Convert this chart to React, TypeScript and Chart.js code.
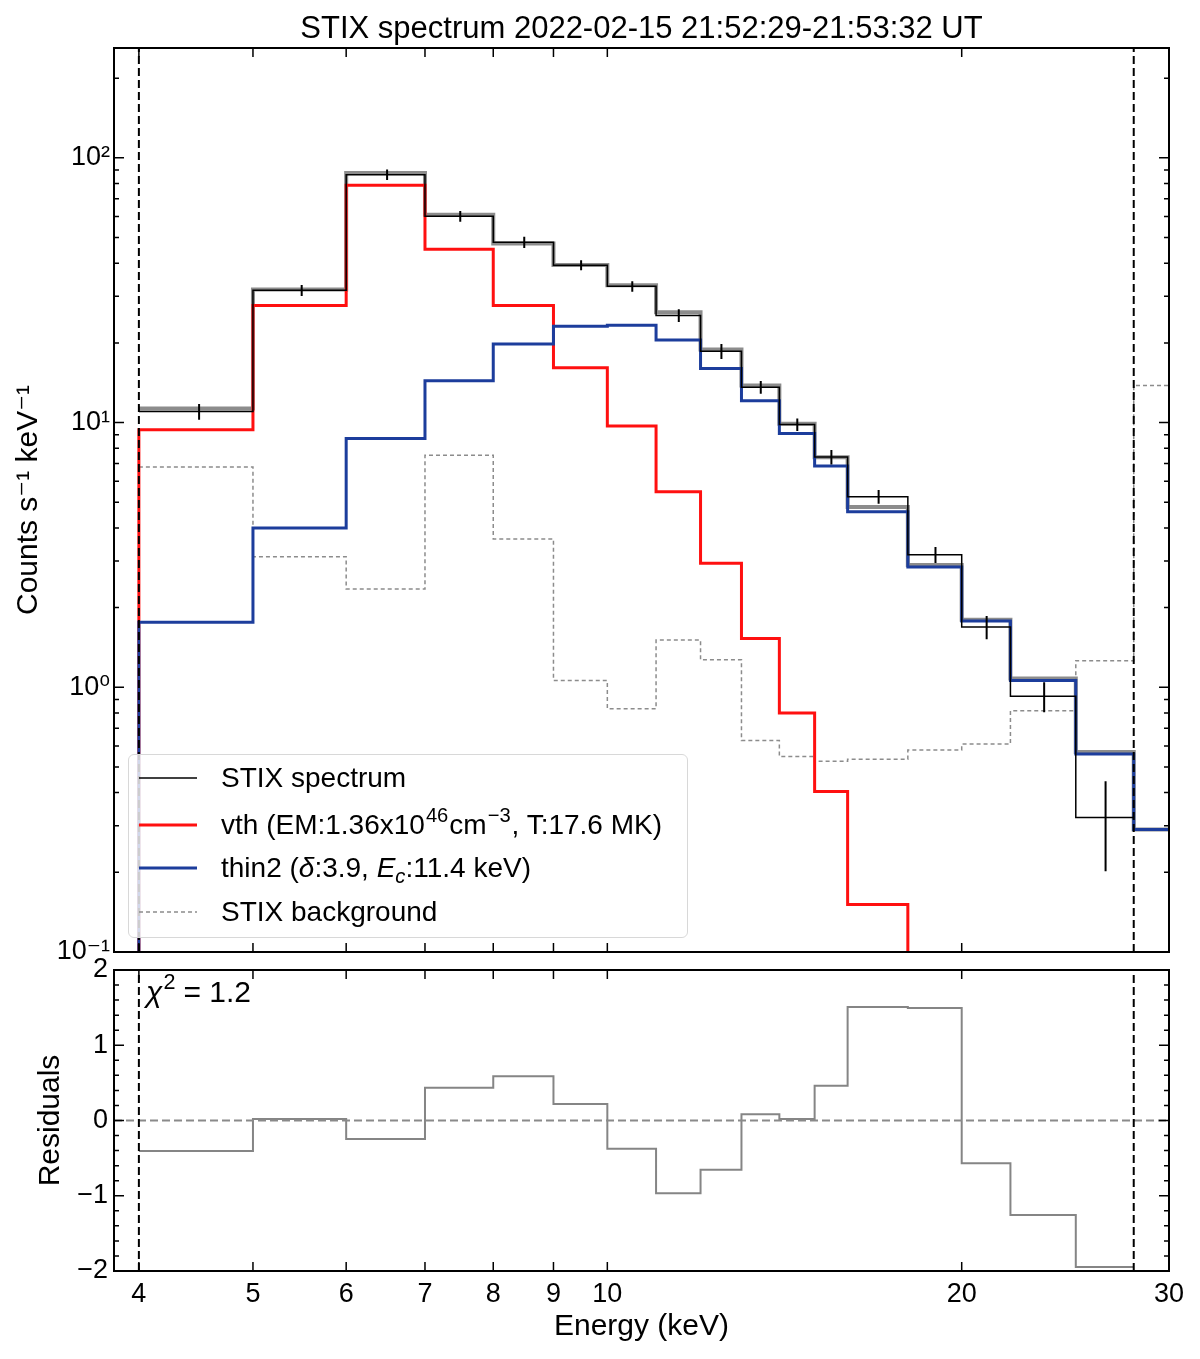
import { useEffect, useRef } from 'react';
import { Chart, registerables } from 'chart.js';

Chart.register(...registerables);

const FONT = "'Liberation Sans', Arial, Helvetica, 'DejaVu Sans', sans-serif";

// STIX energy bin edges (keV)
const EDGES = [4, 5, 6, 7, 8, 9, 10, 11, 12, 13, 14, 15, 16, 18, 20, 22, 25, 28, 32];

// counts s^-1 keV^-1 per bin
const SPECTRUM = [11.0, 31.6, 86.4, 60.2, 48.0, 39.3, 32.7, 25.4, 18.6, 13.6, 9.83, 7.41, 5.25, 3.17, 1.69, 0.925, 0.322, null];
const SPECTRUM_ERR = [0.75, 1.5, 3.9, 2.8, 2.3, 1.7, 1.5, 1.4, 1.2, 0.75, 0.54, 0.46, 0.31, 0.22, 0.17, 0.12, 0.12, null];
const TOTAL = [11.3, 31.8, 87.7, 61.0, 47.5, 39.4, 33.0, 26.1, 18.9, 13.8, 9.9, 7.4, 4.8, 2.9, 1.8, 1.08, 0.57, 0.29];
const VTH = [9.4, 27.7, 78.8, 45.2, 27.7, 16.1, 9.7, 5.48, 2.94, 1.53, 0.8, 0.404, 0.151, 0.06, 0.02, 0.006, 0.002, 0.0005];
const THIN2 = [1.76, 4.0, 8.7, 14.4, 19.8, 23.1, 23.3, 20.5, 16.0, 12.1, 9.1, 6.86, 4.6, 2.85, 1.78, 1.06, 0.56, 0.29];
const BACKGROUND = [6.8, 3.11, 2.35, 7.52, 3.63, 1.06, 0.83, 1.51, 1.27, 0.63, 0.548, 0.526, 0.535, 0.58, 0.61, 0.815, 1.26, 13.8];
const RESIDUALS = [-0.405, 0.02, -0.246, 0.436, 0.587, 0.219, -0.374, -0.968, -0.653, 0.082, 0.02, 0.463, 1.508, 1.495, -0.569, -1.255, -1.947];

const FIT_RANGE = [4, 28];
const X_MIN = 3.81, X_MAX = 30;
const Y_MIN = 0.1, Y_MAX = 260;
const RES_MIN = -2, RES_MAX = 2;
const X_TICKS = [4, 5, 6, 7, 8, 9, 10, 20, 30];
const Y_TICKS = [0.1, 1, 10, 100];
const Y_TICK_LABELS = ['10⁻¹', '10⁰', '10¹', '10²'];
const RES_TICKS = [-2, -1, 0, 1, 2];

const Y_MINOR: number[] = [];
for (const p of [0.1, 1, 10, 100]) for (let m = 2; m <= 9; m++) if (m * p <= Y_MAX) Y_MINOR.push(m * p);
const RES_MINOR: number[] = [];
for (let i = -10; i <= 10; i++) if (i % 5 !== 0) RES_MINOR.push(i / 5);

type Pt = { x: number; y: number | null };

function steps(vals: (number | null)[], drop?: number): Pt[] {
  const pts: Pt[] = [];
  if (drop != null) pts.push({ x: EDGES[0], y: drop });
  vals.forEach((v, i) => {
    if (v == null) return;
    pts.push({ x: EDGES[i], y: v }, { x: EDGES[i + 1], y: v });
  });
  return pts;
}

function errBars(): Pt[] {
  const pts: Pt[] = [];
  SPECTRUM.forEach((v, i) => {
    const e = SPECTRUM_ERR[i];
    if (v == null || e == null) return;
    const c = (EDGES[i] + EDGES[i + 1]) / 2;
    pts.push({ x: c, y: v - e }, { x: c, y: v + e }, { x: c, y: null });
  });
  return pts;
}

function vline(x: number, lo: number, hi: number): Pt[] { return [{ x, y: lo }, { x, y: hi }]; }

// inward ticks on all four sides + frame
const frameTicks = {
  id: 'frameTicks',
  afterDraw(chart: any, _a: any, o: any) {
    const { ctx, chartArea: a, scales } = chart;
    const xs = scales.x, ys = scales.y;
    ctx.save();
    ctx.strokeStyle = '#000';
    ctx.lineWidth = 1.5;
    ctx.beginPath();
    for (const v of o.xMajor) {
      const p = xs.getPixelForValue(v);
      ctx.moveTo(p, a.bottom); ctx.lineTo(p, a.bottom - 9);
      ctx.moveTo(p, a.top); ctx.lineTo(p, a.top + 9);
    }
    const yt = (list: number[], len: number) => {
      for (const v of list) {
        const p = ys.getPixelForValue(v);
        ctx.moveTo(a.left, p); ctx.lineTo(a.left + len, p);
        ctx.moveTo(a.right, p); ctx.lineTo(a.right - len, p);
      }
    };
    yt(o.yMajor, 10);
    yt(o.yMinor, 5);
    ctx.stroke();
    ctx.lineWidth = 2;
    ctx.strokeRect(a.left, a.top, a.right - a.left, a.bottom - a.top);
    ctx.restore();
  },
};

const line = (data: Pt[], color: string, width: number, order: number, dash: number[] = []) => ({
  data, borderColor: color, borderWidth: width, borderDash: dash, order,
  pointRadius: 0, pointHitRadius: 0, tension: 0, fill: false, borderJoinStyle: 'miter' as const,
});

const BASE = {
  responsive: true, maintainAspectRatio: false, animation: false as const, events: [] as any[],
  plugins: { legend: { display: false }, tooltip: { enabled: false } },
};

function SpectrumPanel() {
  const ref = useRef<HTMLCanvasElement>(null);
  useEffect(() => {
    if (!ref.current) return;
    const chart = new Chart(ref.current, {
      type: 'line',
      data: {
        datasets: [
          line(vline(FIT_RANGE[0], Y_MIN, Y_MAX), '#000', 2, 0, [8, 4]),
          line(vline(FIT_RANGE[1], Y_MIN, Y_MAX), '#000', 2, 0, [8, 4]),
          line(errBars(), '#000', 2, 1),
          line(steps(SPECTRUM), '#000', 1.5, 2),
          line(steps(THIN2, 0.001), '#1c3d9c', 3, 3),
          line(steps(VTH, 0.001), '#ff1010', 3, 4),
          line(steps(TOTAL), 'rgba(128,128,128,0.9)', 4, 5),
          line(steps(BACKGROUND), '#8c8c8c', 1.5, 6, [4, 3]),
        ],
      },
      options: {
        ...BASE,
        layout: { padding: { left: 0, right: 31, top: 48, bottom: 48 } },
        scales: {
          x: {
            type: 'logarithmic', min: X_MIN, max: X_MAX, bounds: 'data',
            ticks: { display: false }, grid: { display: false, drawTicks: false }, border: { display: false },
            afterFit: (s: any) => { s.height = 0; s.paddingLeft = 0; s.paddingRight = 0; },
          },
          y: {
            type: 'logarithmic', min: Y_MIN, max: Y_MAX, bounds: 'data',
            afterBuildTicks: (s: any) => { s.ticks = Y_TICKS.map(value => ({ value })); },
            ticks: {
              autoSkip: false, padding: 4, color: '#000', font: { family: FONT, size: 27 },
              callback: (v: any) => Y_TICK_LABELS[Y_TICKS.indexOf(Number(v))] ?? '',
            },
            grid: { display: false, drawTicks: false }, border: { display: false },
            title: { display: true, text: 'Counts s⁻¹ keV⁻¹', color: '#000', font: { family: FONT, size: 30 }, padding: { top: 11, bottom: 0 } },
            afterFit: (s: any) => { s.width = 114; s.paddingTop = 0; s.paddingBottom = 0; },
          },
        },
        plugins: { ...BASE.plugins, frameTicks: { xMajor: X_TICKS, yMajor: Y_TICKS, yMinor: Y_MINOR } } as any,
      },
      plugins: [frameTicks],
    });
    return () => chart.destroy();
  }, []);
  return <div style={{ position: 'absolute', left: 0, top: 0, width: 1200, height: 1000 }}><canvas ref={ref} /></div>;
}

function ResidualPanel() {
  const ref = useRef<HTMLCanvasElement>(null);
  useEffect(() => {
    if (!ref.current) return;
    const chart = new Chart(ref.current, {
      type: 'line',
      data: {
        datasets: [
          line(vline(FIT_RANGE[0], RES_MIN, RES_MAX), '#000', 2, 0, [8, 4]),
          line(vline(FIT_RANGE[1], RES_MIN, RES_MAX), '#000', 2, 0, [8, 4]),
          line([{ x: X_MIN, y: 0 }, { x: X_MAX, y: 0 }], '#8a8a8a', 2, 1, [8, 4]),
          line(steps(RESIDUALS), '#858585', 2, 2),
        ],
      },
      options: {
        ...BASE,
        layout: { padding: { left: 0, right: 31, top: 30, bottom: 0 } },
        scales: {
          x: {
            type: 'logarithmic', min: X_MIN, max: X_MAX, bounds: 'data',
            afterBuildTicks: (s: any) => { s.ticks = X_TICKS.map(value => ({ value })); },
            ticks: { autoSkip: false, maxRotation: 0, padding: 7, color: '#000', font: { family: FONT, size: 27 }, callback: (v: any) => String(v) },
            grid: { display: false, drawTicks: false }, border: { display: false },
            title: { display: true, text: 'Energy (keV)', color: '#000', font: { family: FONT, size: 30 }, padding: { top: 0, bottom: 14 } },
            afterFit: (s: any) => { s.height = 88; s.paddingLeft = 0; s.paddingRight = 0; },
          },
          y: {
            type: 'linear', min: RES_MIN, max: RES_MAX,
            afterBuildTicks: (s: any) => { s.ticks = RES_TICKS.map(value => ({ value })); },
            ticks: {
              autoSkip: false, padding: 6, color: '#000', font: { family: FONT, size: 27 },
              callback: (v: any) => (Number(v) < 0 ? '−' + Math.abs(Number(v)) : String(v)),
            },
            grid: { display: false, drawTicks: false }, border: { display: false },
            title: { display: true, text: 'Residuals', color: '#000', font: { family: FONT, size: 30 }, padding: { top: 33, bottom: 0 } },
            afterFit: (s: any) => { s.width = 114; s.paddingTop = 0; s.paddingBottom = 0; },
          },
        },
        plugins: { ...BASE.plugins, frameTicks: { xMajor: X_TICKS, yMajor: RES_TICKS, yMinor: RES_MINOR } } as any,
      },
      plugins: [frameTicks],
    });
    return () => chart.destroy();
  }, []);
  return <div style={{ position: 'absolute', left: 0, top: 940, width: 1200, height: 419 }}><canvas ref={ref} /></div>;
}

const sup = { fontSize: '0.72em', position: 'relative' as const, top: '-0.6em', lineHeight: 0, margin: '0 1px' };
const sub = { fontSize: '0.72em', position: 'relative' as const, top: '0.3em', lineHeight: 0 };

function Handle({ color, width, dash }: { color: string; width: number; dash?: string }) {
  return (
    <svg width={58} height={8} style={{ marginLeft: 10, flexShrink: 0 }}>
      <line x1={0} y1={4} x2={58} y2={4} stroke={color} strokeWidth={width} strokeDasharray={dash} />
    </svg>
  );
}

function Legend() {
  const rows = [
    { c: 23, h: <Handle color="#000" width={1.5} />, t: <>STIX spectrum</> },
    { c: 70, h: <Handle color="#ff1010" width={3} />, t: <>vth (EM:1.36x10<span style={sup}>46</span>cm<span style={sup}>−3</span>, T:17.6 MK)</> },
    { c: 113, h: <Handle color="#1c3d9c" width={3} />, t: <>thin2 (<i>δ</i>:3.9, <i>E</i><span style={{ ...sub, fontStyle: 'italic' }}>c</span>:11.4 keV)</> },
    { c: 157, h: <Handle color="#8c8c8c" width={1.5} dash="4 3" />, t: <>STIX background</> },
  ];
  return (
    <div style={{
      position: 'absolute', left: 128, top: 754, width: 560, height: 184, boxSizing: 'border-box',
      border: '1px solid #d8d8d8', borderRadius: 6, background: 'rgba(255,255,255,0.8)',
    }}>
      {rows.map((r, i) => (
        <div key={i} style={{ position: 'absolute', left: 0, top: r.c - 20, height: 40, display: 'flex', alignItems: 'center', whiteSpace: 'nowrap' }}>
          {r.h}
          <span style={{ marginLeft: 24, fontSize: 28, lineHeight: '28px' }}>{r.t}</span>
        </div>
      ))}
    </div>
  );
}

export default function App() {
  useEffect(() => { document.body.style.margin = '0'; }, []);
  return (
    <div style={{ position: 'relative', width: 1200, height: 1359, background: '#fff', fontFamily: FONT, color: '#000', overflow: 'hidden' }}>
      <SpectrumPanel />
      <ResidualPanel />
      <div style={{ position: 'absolute', left: 114, width: 1055, top: 10, height: 36, lineHeight: '36px', fontSize: 31, textAlign: 'center', whiteSpace: 'nowrap' }}>
        STIX spectrum 2022-02-15 21:52:29-21:53:32 UT
      </div>
      <Legend />
      <div style={{ position: 'absolute', left: 146, top: 977, fontSize: 30, lineHeight: '30px', whiteSpace: 'nowrap' }}>
        <i>χ</i><span style={{ ...sup, marginRight: 8 }}>2</span>= 1.2
      </div>
    </div>
  );
}
